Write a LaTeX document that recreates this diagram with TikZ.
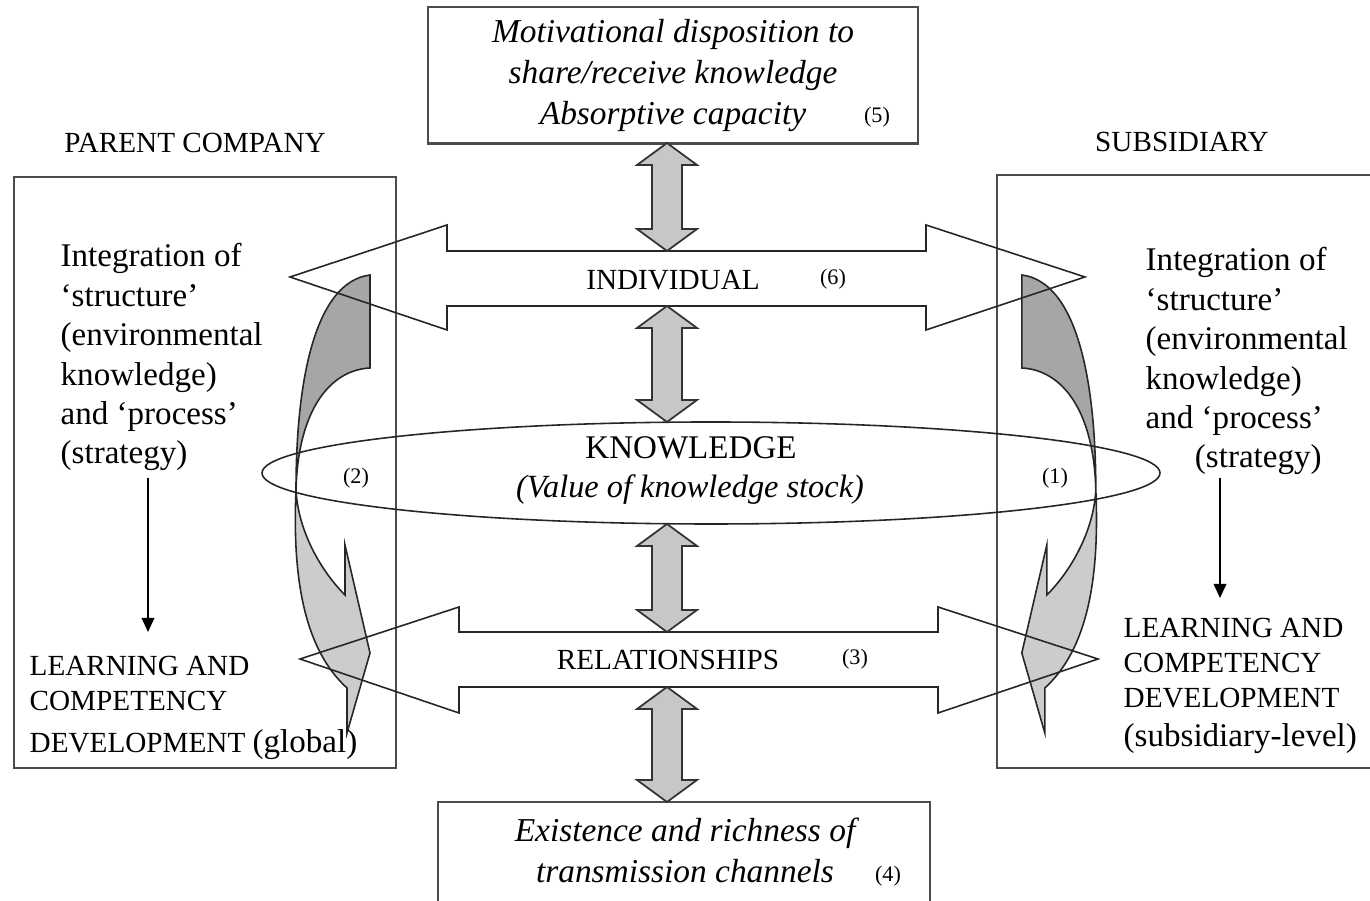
\documentclass[tikz,border=0pt]{standalone}
\usepackage{fontspec}
\setmainfont{Liberation Serif}
\usetikzlibrary{arrows.meta,calc}

% twisted band arrow beside a company box (drawn for the left side)
\newcommand{\bentarrow}{%
    \filldraw[backface] (370,275) -- (370,368) .. controls (330,370) and (298,410) .. (296,490)
        .. controls (296,380) and (315,282) .. (370,275) -- cycle;
    \filldraw[frontface] (296,490) .. controls (292,580) and (305,650) .. (347,688)
        -- (347,733) -- (370,653) -- (345,545) -- (345,595)
        .. controls (320,570) and (298,530) .. (296,490) -- cycle;
}
% grey two-headed block arrow between two points on one vertical
\newcommand{\blockarrow}[2]{%
    \filldraw[blockfill] (#1) -- ++(30,22) -- ++(-15,0) -- ($(#2)+(15,-22)$) -- ++(15,0)
        -- (#2) -- ++(-30,-22) -- ++(15,0) -- ($(#1)+(-15,22)$) -- ++(-15,0) -- cycle;
}

\begin{document}
\begin{tikzpicture}[x=0.01cm,y=-0.01cm,
    box/.style={draw=black!70,line width=0.6pt},
    outline/.style={draw=black!85,line width=0.45pt},
    backface/.style={fill=black!35,draw=black!85,line width=0.45pt},
    frontface/.style={fill=black!20,draw=black!85,line width=0.45pt},
    blockfill/.style={fill=black!22,draw=black!80,line width=0.5pt},
    pointer/.style={-{Triangle[length=4pt,width=3.6pt]},line width=0.45pt},
    caps/.style={inner sep=0,font=\fontsize{8.3}{10}\selectfont},
    bigtext/.style={inner sep=0,align=left,font=\fontsize{9.4}{11.2}\selectfont},
    numtag/.style={inner sep=0,font=\fontsize{6.3}{7}\selectfont}]
    \useasboundingbox (0,0) rectangle (1370,901);

    % boxes
    \node[box,minimum width=4.9cm,minimum height=1.35cm,align=center,
        font=\itshape\fontsize{9.5}{11.7}\selectfont] (motive) at (673,75.5)
        {Motivational disposition to\\share/receive knowledge\\Absorptive capacity};
    \node[box,minimum width=4.92cm,minimum height=1.1cm] (channels) at (684,857) {};
    \node[box,minimum width=3.82cm,minimum height=5.91cm] (parent) at (205,472.5) {};
    \node[box,minimum width=3.83cm,minimum height=5.93cm] (subsid) at (1188.5,471.5) {};

    % twisted arrows
    \bentarrow
    \begin{scope}[xshift=13.91cm,xscale=-1]
        \bentarrow
    \end{scope}

    % wide arrows and ellipse
    \draw[outline] (290,277) -- (447,225) -- (447,251) -- (926,251) -- (926,225) -- (1085,277)
        -- (926,330) -- (926,306) -- (447,306) -- (447,330) -- cycle;
    \draw[outline] (300,659) -- (459,607) -- (459,632) -- (938,632) -- (938,607) -- (1098,659)
        -- (938,713) -- (938,687) -- (459,687) -- (459,713) -- cycle;
    \draw[outline] (711,473) ellipse [x radius=449,y radius=51];

    % connectors
    \coordinate (a1) at (667,143);
    \coordinate (a2) at (667,251);
    \coordinate (a3) at (667,306);
    \coordinate (a4) at (667,422);
    \coordinate (a5) at (667,524);
    \coordinate (a6) at (667,632);
    \coordinate (a7) at (667,687);
    \coordinate (a8) at (667,802);
    \blockarrow{a1}{a2}
    \blockarrow{a3}{a4}
    \blockarrow{a5}{a6}
    \blockarrow{a7}{a8}
    \coordinate (p1) at (148,478);
    \coordinate (p2) at (148,632);
    \coordinate (s1) at (1220,478);
    \coordinate (s2) at (1220,598);
    \draw[pointer] (p1) -- (p2);
    \draw[pointer] (s1) -- (s2);

    % texts
    \node[align=center,font=\itshape\fontsize{9.5}{11.7}\selectfont] (channeltext) at (685,850)
        {Existence and richness of\\transmission channels};
    \node[caps] (parentname) at (195,143) {PARENT COMPANY};
    \node[caps] (subsidname) at (1182,142) {SUBSIDIARY};
    \node[bigtext,anchor=north west] (pinteg) at (60,243)
        {Integration of\\`structure'\\(environmental\\knowledge)\\and `process'\\(strategy)};
    \node[bigtext,anchor=north west] (sinteg) at (1145,247)
        {Integration of\\`structure'\\(environmental\\knowledge)\\and `process'\\\hspace*{14pt}(strategy)};
    \node[caps,align=left,anchor=north west] (plearn) at (29,655)
        {LEARNING AND\\COMPETENCY\\[2pt]DEVELOPMENT {\fontsize{9.4}{11}\selectfont(global)}};
    \node[caps,align=left,anchor=north west] (slearn) at (1123,617)
        {LEARNING AND\\COMPETENCY\\DEVELOPMENT\\[1pt]{\fontsize{9.4}{11}\selectfont(subsidiary-level)}};
    \node[caps] (indiv) at (673,280) {INDIVIDUAL};
    \node[inner sep=0,font=\fontsize{9.4}{11}\selectfont] (know) at (691,448) {KNOWLEDGE};
    \node[inner sep=0,font=\itshape\fontsize{9.2}{11}\selectfont] (stock) at (690,490)
        {(Value of knowledge stock)};
    \node[caps] (relat) at (668,660) {RELATIONSHIPS};
    \node[numtag] (n1) at (1055,478) {(1)};
    \node[numtag] (n2) at (356,478) {(2)};
    \node[numtag] (n3) at (855,659) {(3)};
    \node[numtag] (n4) at (888,876) {(4)};
    \node[numtag] (n5) at (877,117) {(5)};
    \node[numtag] (n6) at (833,279) {(6)};
\end{tikzpicture}
\end{document}
